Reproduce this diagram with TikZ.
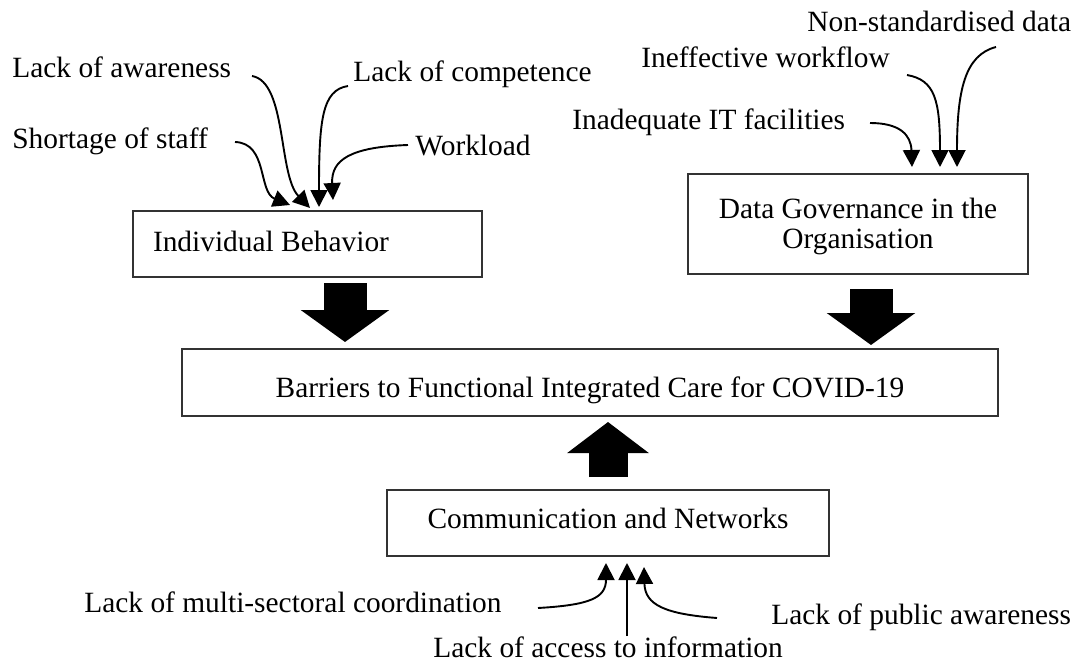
\documentclass[tikz,border=0pt]{standalone}
\usepackage{fontspec}
\setmainfont{Liberation Serif}
\usetikzlibrary{arrows.meta}
\begin{document}
\begin{tikzpicture}[x=0.5pt,y=-0.5pt,
  font=\fontsize{14.7}{15}\selectfont,
  box/.style={draw=black!80, line width=0.75pt, rectangle, inner sep=0pt},
  lbl/.style={anchor=base west, inner sep=0pt},
  con/.style={line width=0.95pt, -{Triangle[length=8.5pt,width=8.5pt]}},
  blkdown/.style={line width=21.5pt, -{Triangle[length=16pt,width=43.5pt]}},
  blkup/.style={line width=19.5pt, -{Triangle[length=15.5pt,width=40pt]}}
]
\fill[white] (0,0) rectangle (1088,664);
\useasboundingbox (0,0) rectangle (1088,664);

% boxes
\node[box, minimum width=174.5pt, minimum height=33pt,
      text height=7pt, text depth=0pt] (ib) at (307.5,244)
      {\makebox[154.5pt][l]{Individual Behavior}};
\node[box, minimum width=170pt, minimum height=50pt, align=center] (dg) at (858,224)
      {\rule{0pt}{13pt}Data Governance in the\\Organisation};
\node[box, minimum width=408pt, minimum height=33.5pt, text height=14.5pt, text depth=0pt]
      (bar) at (590,382.5) {Barriers to Functional Integrated Care for COVID-19};
\node[box, minimum width=221pt, minimum height=33pt, text height=5pt, text depth=0pt]
      (comm) at (608,523) {Communication and Networks};

% labels
\node[lbl] (aw) at (12,77) {Lack of awareness};
\node[lbl] (comp) at (353,82) {Lack of competence};
\node[lbl] (short) at (12,148) {Shortage of staff};
\node[lbl] (work) at (415,155) {Workload};
\node[lbl] (nsd) at (807,32) {Non-standardised data};
\node[lbl] (iw) at (641,67) {Ineffective workflow};
\node[lbl] (it) at (572,129) {Inadequate IT facilities};
\node[lbl] (multi) at (84,612) {Lack of multi-sectoral coordination};
\node[lbl] (access) at (433,657) {Lack of access to information};
\node[lbl] (public) at (771,624) {Lack of public awareness};

% connector end points
\coordinate (shortS) at (235,142);  \coordinate (shortT) at (290,205);
\coordinate (awS) at (252,76);      \coordinate (awT) at (310,208);
\coordinate (compS) at (348,86);    \coordinate (compT) at (319,207);
\coordinate (workS) at (408,145);   \coordinate (workT) at (333,200);
\coordinate (itS) at (870,123);     \coordinate (itT) at (912,167);
\coordinate (iwS) at (907,75);      \coordinate (iwT) at (940,167);
\coordinate (nsdS) at (996,47);     \coordinate (nsdT) at (957,167);
\coordinate (multiS) at (538,608);  \coordinate (multiT) at (606,563);
\coordinate (accS) at (627,636);    \coordinate (accT) at (627,563);
\coordinate (pubS) at (717,618);    \coordinate (pubT) at (644,567);

\draw[con] (shortS) .. controls (268,143) and (258,192) .. (shortT);
\draw[con] (awS) .. controls (287,82) and (278,175) .. (awT);
\draw[con] (compS) .. controls (322,90) and (319,120) .. (compT);
\draw[con] (workS) .. controls (350,147) and (331,160) .. (workT);
\draw[con] (itS) .. controls (900,123) and (911,135) .. (itT);
\draw[con] (iwS) .. controls (935,80) and (940,100) .. (iwT);
\draw[con] (nsdS) .. controls (965,55) and (957,90) .. (nsdT);
\draw[con] (multiS) .. controls (590,605) and (606,598) .. (multiT);
\draw[con] (accS) -- (accT);
\draw[con] (pubS) .. controls (665,614) and (645,605) .. (pubT);

% block arrows
\coordinate (b1s) at (345,283); \coordinate (b1e) at (345,342);
\coordinate (b2s) at (871,289); \coordinate (b2e) at (871,345);
\coordinate (b3s) at (608,477); \coordinate (b3e) at (608,422);
\draw[blkdown] (b1s) -- (b1e);
\draw[blkdown] (b2s) -- (b2e);
\draw[blkup] (b3s) -- (b3e);
\end{tikzpicture}
\end{document}
